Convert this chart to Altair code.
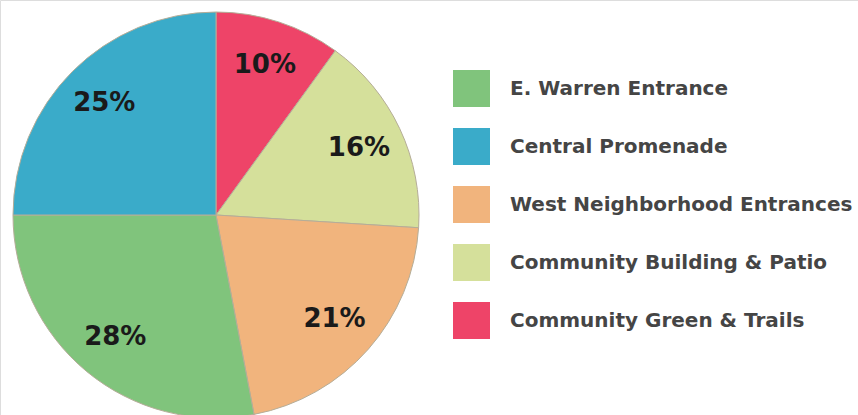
import altair as alt
import pandas as pd

categories = ["Community Green & Trails", "Community Building & Patio",
              "West Neighborhood Entrances", "E. Warren Entrance", "Central Promenade"]
values = [10, 16, 21, 28, 25]
labels = ["10%", "16%", "21%", "28%", "25%"]
legend_order = ["E. Warren Entrance", "Central Promenade", "West Neighborhood Entrances",
                "Community Building & Patio", "Community Green & Trails"]
legend_colors = ["#80c47c", "#3aabc9", "#f1b47d", "#d5e09b", "#ee4468"]

df = pd.DataFrame({"category": categories, "value": values, "label": labels,
                   "order": list(range(len(categories)))})

base = alt.Chart(df).encode(
    theta=alt.Theta("value:Q", stack=True),
    order=alt.Order("order:Q"),
)

pie = base.mark_arc(radius=203, stroke="#b5ad98", strokeWidth=1).encode(
    x=alt.value(216), y=alt.value(215),
    color=alt.Color("category:N",
                    scale=alt.Scale(domain=legend_order, range=legend_colors),
                    sort=legend_order,
                    legend=alt.Legend(title=None, orient="none", legendX=453, legendY=70,
                                      symbolType="square", symbolSize=1369,
                                      symbolStrokeWidth=0, symbolOpacity=1,
                                      labelFontSize=20, labelFont="DejaVu Sans",
                                      labelFontWeight="bold", labelColor="#454545",
                                      labelOffset=20, rowPadding=21, labelLimit=400)),
)

text = base.mark_text(radius=158, fontSize=26, font="DejaVu Sans", fontWeight="bold",
                      color="#1a1a1a").encode(
    x=alt.value(216), y=alt.value(215),
    text="label:N",
)

chart = alt.layer(pie, text).properties(
    width=858, height=415, padding=0, autosize=alt.AutoSizeParams(type="none")
).configure_view(stroke=None).configure(background="white")

chart.save("out.html", embed_options={"renderer": "svg", "actions": False})
